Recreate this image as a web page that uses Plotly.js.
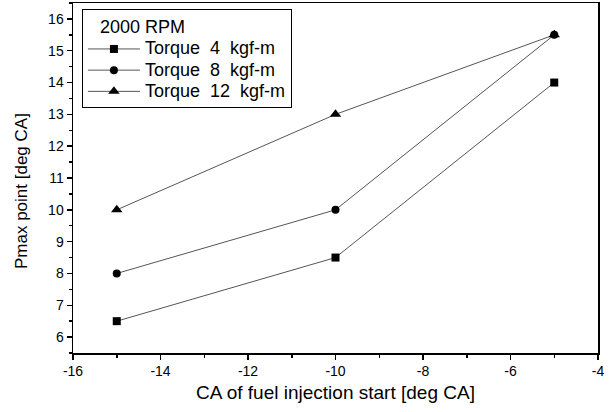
<!DOCTYPE html>
<html><head><meta charset="utf-8">
<script src="https://cdn.plot.ly/plotly-3.0.1.min.js"></script>
<style>body{margin:0;background:#fff}#c{width:611px;height:412px}</style>
</head><body><div id="c"></div>
<script>
const injStart = [-15, -10, -5];
const torque4 = [6.5, 8.5, 14];
const torque8 = [8, 10, 15.5];
const torque12 = [10, 13, 15.5];
const seriesNames = ['Torque  4  kgf-m', 'Torque  8  kgf-m', 'Torque  12  kgf-m'];
const legendTitle = '   2000 RPM';
const xTickVals = [-16, -14, -12, -10, -8, -6, -4];
const xTickText = ['-16', '-14', '-12', '-10', '-8', '-6', '-4'];
const xTitle = 'CA of fuel injection start [deg CA]';
const yTitle = 'Pmax point [deg CA]';

const symbols = ['square', 'circle', 'triangle-up'];
const ys = [torque4, torque8, torque12];
const traces = ys.map((y, i) => ({
  x: injStart, y: y, name: '<span style="font-size:18px">' + seriesNames[i] + '</span>',
  type: 'scatter', mode: 'lines+markers',
  line: {color: '#555', width: 1},
  marker: {symbol: symbols[i], color: '#000', size: i === 2 ? 10 : 8}
}));
const font = {family: 'Liberation Sans, Arial, sans-serif', color: '#000'};
const layout = {
  width: 611, height: 412,
  margin: {l: 73, r: 13, t: 3, b: 59},
  paper_bgcolor: '#fff', plot_bgcolor: '#fff',
  font: Object.assign({size: 14}, font),
  showlegend: true,
  legend: {
    x: 0.017, y: 0.983, xanchor: 'left', yanchor: 'top',
    bordercolor: '#000', borderwidth: 1, bgcolor: '#fff',
    font: Object.assign({size: 14}, font),
    title: {text: legendTitle, font: Object.assign({size: 18}, font)},
    tracegroupgap: 0, itemwidth: 52
  },
  annotations: [{
    text: yTitle, xref: 'paper', yref: 'paper', x: -0.097, y: 0.463,
    xanchor: 'center', yanchor: 'middle', textangle: -90, showarrow: false,
    font: Object.assign({size: 17}, font)
  }],
  xaxis: {
    range: [-16, -4], tickmode: 'array', tickvals: xTickVals, ticktext: xTickText,
    showgrid: false, zeroline: false,
    showline: true, linecolor: '#000', linewidth: 1.5, mirror: true,
    ticks: 'outside', ticklen: 5, tickcolor: '#000', tickwidth: 1.5,
    minor: {dtick: 1, tick0: -16, ticks: 'outside', ticklen: 3, tickcolor: '#000', tickwidth: 1.5},
    tickfont: Object.assign({size: 14}, font),
    title: {text: xTitle, font: Object.assign({size: 19}, font), standoff: 7}
  },
  yaxis: {
    range: [5.5, 16.5], dtick: 1, tick0: 6, showgrid: false, zeroline: false,
    showline: true, linecolor: '#000', linewidth: 1.5, mirror: true,
    ticks: 'outside', ticklen: 5, tickcolor: '#000', tickwidth: 1.5,
    minor: {dtick: 0.5, ticks: 'outside', ticklen: 3, tickcolor: '#000', tickwidth: 1.5},
    tickfont: Object.assign({size: 14}, font)
  }
};
Plotly.newPlot('c', traces, layout, {staticPlot: true, displayModeBar: false});
</script></body></html>
